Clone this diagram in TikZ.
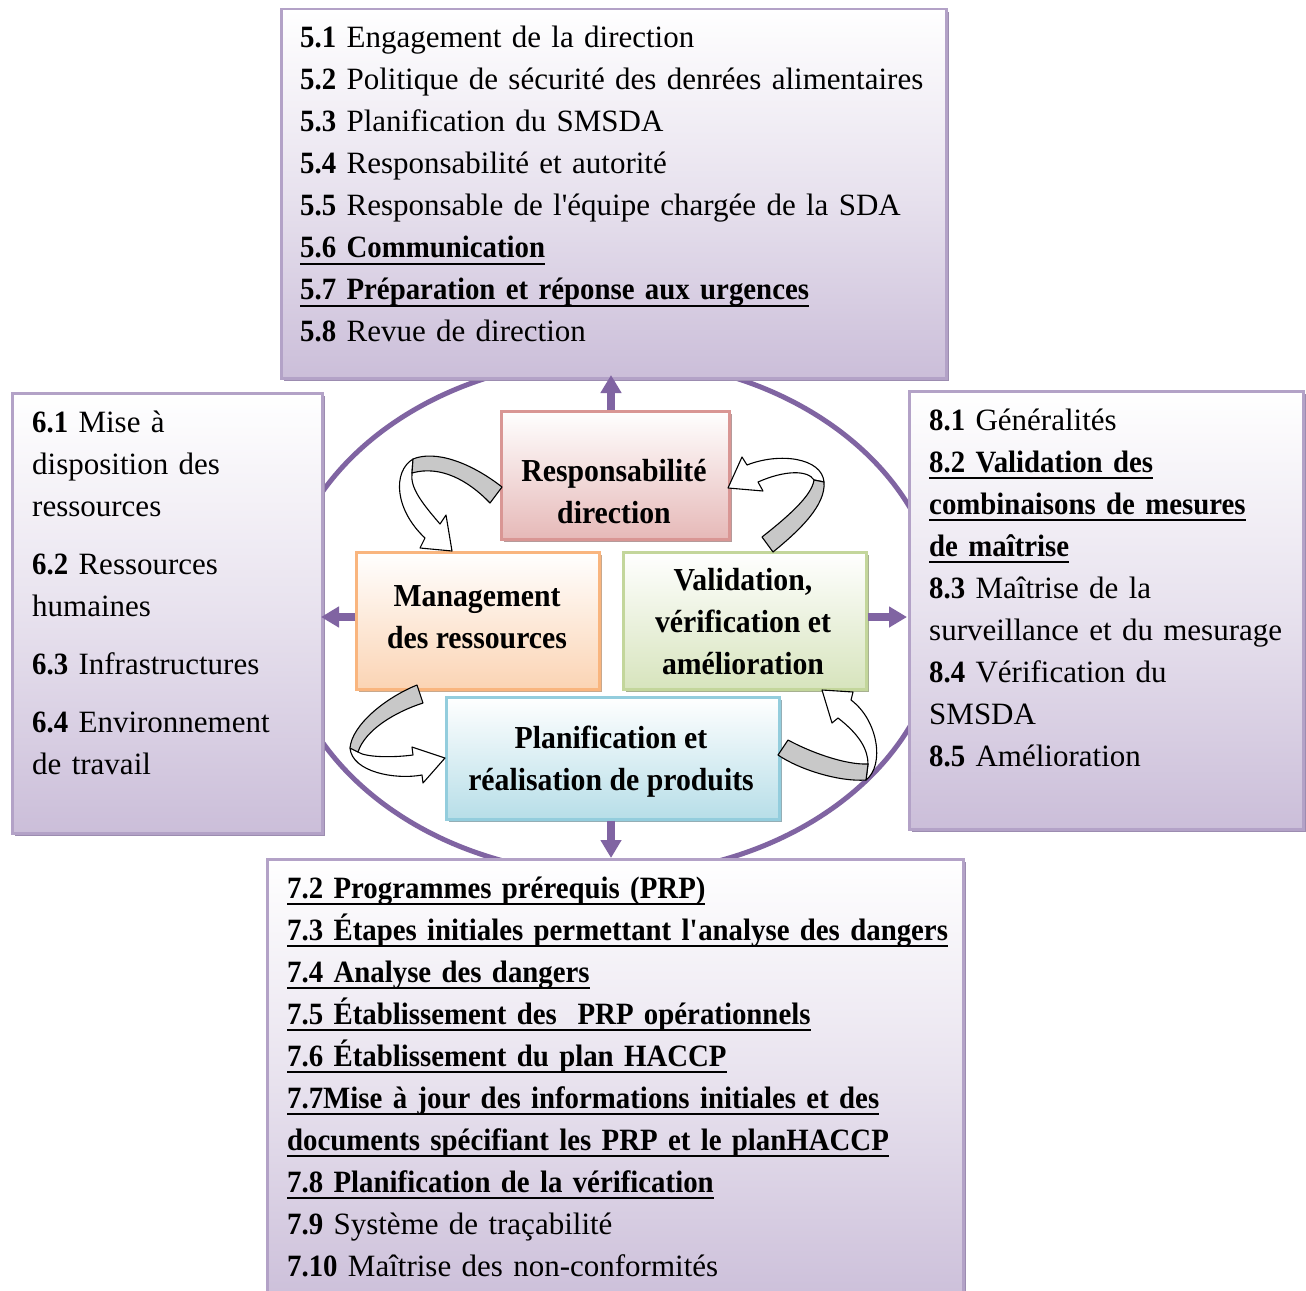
\documentclass[tikz,border=0pt]{standalone}
\usepackage{fontspec}
\setmainfont{Liberation Serif}[BoldFeatures={FakeStretch=0.93}]
\usetikzlibrary{arrows.meta,shadows}

\definecolor{ringpurple}{HTML}{8064A2}
\definecolor{outerline}{HTML}{B3A2C7}
\definecolor{outerfill}{HTML}{CBBED9}
\definecolor{outershadow}{HTML}{9C8CB0}
\definecolor{respline}{HTML}{D99694}
\definecolor{respfill}{HTML}{E6B9B8}
\definecolor{respshadow}{HTML}{B59A9A}
\definecolor{mgmtline}{HTML}{F9B57E}
\definecolor{mgmtfill}{HTML}{FBD4B4}
\definecolor{mgmtshadow}{HTML}{C8A88C}
\definecolor{validline}{HTML}{C3D69B}
\definecolor{validfill}{HTML}{D7E4BD}
\definecolor{validshadow}{HTML}{A6B090}
\definecolor{planline}{HTML}{93CDDD}
\definecolor{planfill}{HTML}{B7DEE8}
\definecolor{planshadow}{HTML}{94AEB5}
\definecolor{bandgray}{HTML}{C8C8C8}

\newcommand\boxtextfont{\fontsize{31}{42}\selectfont}
\newcommand\corefont{\fontsize{32}{42}\selectfont\bfseries}
% underline at a fixed depth below the baseline
\newlength\ulinewidth
\newcommand\lineunder[1]{\leavevmode\settowidth{\ulinewidth}{#1}\rlap{\rule[-7pt]{\ulinewidth}{1.8pt}}#1}
\newcommand\apos{\textquotesingle}

\tikzset{
  outerbox/.style={draw=outerline, line width=2.5pt, top color=white,
    bottom color=outerfill, middle color=white!55!outerfill, inner sep=0pt,
    anchor=north west, general shadow={fill=outershadow, shadow xshift=3pt, shadow yshift=-3pt}},
  corebox/.style n args={3}{draw=#1, line width=2.5pt, top color=white,
    bottom color=#2, inner sep=0pt, anchor=north west,
    general shadow={fill=#3, shadow xshift=3pt, shadow yshift=-3pt}},
  coretext/.style={inner sep=0pt, align=center, font=\corefont},
  listtext/.style={anchor=base west, inner sep=0pt, text width=#1,
    align=left, font=\boxtextfont},
  ring/.style={draw=ringpurple, line width=5pt},
  outarrow/.style={draw=ringpurple, line width=8pt,
    -{Triangle[length=18pt,width=20pt]}},
  whiteband/.style={draw=black, fill=white, line width=1.1pt, line join=round},
  grayband/.style={draw=black, fill=bandgray, line width=1.1pt, line join=round}
}

\begin{document}
\begin{tikzpicture}[x=1pt,y=-1pt]
\useasboundingbox (0,0) rectangle (1306,1290);
\fill[white] (0,0) rectangle (1306,1290);

% surrounding ring
\draw[ring] (611,617) ellipse [x radius=330pt, y radius=258pt];

% the four clause boxes
\node[outerbox, minimum width=665pt, minimum height=369pt] (top) at (280,8) {};
\node[outerbox, minimum width=310pt, minimum height=440pt] (left) at (11,392) {};
\node[outerbox, minimum width=394pt, minimum height=438pt] (right) at (908,390) {};
\node[outerbox, minimum width=696pt, minimum height=450pt] (bottom) at (266,858) {};

\node[listtext=640pt] (topText) at (300,48) {%
\textbf{5.1} Engagement de la direction\\
\textbf{5.2} Politique de sécurité des denrées alimentaires\\
\textbf{5.3} Planification du SMSDA\\
\textbf{5.4} Responsabilité et autorité\\
\textbf{5.5} Responsable de l\apos équipe chargée de la SDA\\
\lineunder{\textbf{5.6 Communication}}\\
\lineunder{\textbf{5.7 Préparation et réponse aux urgences}}\\
\textbf{5.8} Revue de direction};

\node[listtext=285pt] (leftText) at (32,432) {%
\textbf{6.1} Mise à\\
disposition des\\
ressources\\[16pt]
\textbf{6.2} Ressources\\
humaines\\[16pt]
\textbf{6.3} Infrastructures\\[16pt]
\textbf{6.4} Environnement\\
de travail};

\node[listtext=370pt] (rightText) at (929,430) {%
\textbf{8.1} Généralités\\
\lineunder{\textbf{8.2 Validation des}}\\
\lineunder{\textbf{combinaisons de mesures}}\\
\lineunder{\textbf{de maîtrise}}\\
\textbf{8.3} Maîtrise de la\\
surveillance et du mesurage\\
\textbf{8.4} Vérification du\\
SMSDA\\
\textbf{8.5} Amélioration};

\node[listtext=670pt] (bottomText) at (287,898) {%
\lineunder{\textbf{7.2 Programmes prérequis (PRP)}}\\
\lineunder{\textbf{7.3 Étapes initiales permettant l\apos analyse des dangers}}\\
\lineunder{\textbf{7.4 Analyse des dangers}}\\
\lineunder{\textbf{7.5 Établissement des\ \ PRP opérationnels}}\\
\lineunder{\textbf{7.6 Établissement du plan HACCP}}\\
\lineunder{\textbf{7.7Mise à jour des informations initiales et des}}\\
\lineunder{\textbf{documents spécifiant les PRP et le planHACCP}}\\
\lineunder{\textbf{7.8 Planification de la vérification}}\\
\textbf{7.9} Système de traçabilité\\
\textbf{7.10} Maîtrise des non-conformités};

% the four core processes
\node[corebox={respline}{respfill}{respshadow}, minimum width=228pt, minimum height=128pt] (resp) at (500,410) {};
\node[corebox={mgmtline}{mgmtfill}{mgmtshadow}, minimum width=243pt, minimum height=137pt] (mgmt) at (355,551) {};
\node[corebox={validline}{validfill}{validshadow}, minimum width=243pt, minimum height=137pt] (valid) at (622,551) {};
\node[corebox={planline}{planfill}{planshadow}, minimum width=333pt, minimum height=122pt] (plan) at (445,696) {};

\node[coretext] (respText) at (614,492) {Responsabilité\\direction};
\node[coretext] (mgmtText) at (477,617) {Management\\des ressources};
\node[coretext] (validText) at (743,622) {Validation,\\vérification et\\amélioration};
\node[coretext] (planText) at (611,762) {Planification et\\réalisation de produits};

% circular ribbon arrows between the core processes
\draw[whiteband] (413,459) .. controls (392,472) and (395,510) .. (425,538)
  -- (420,548) -- (452,551) -- (446,515) -- (440,524)
  .. controls (422,503) and (410,488) .. (412,473) -- cycle;
\draw[grayband] (502,487) .. controls (470,462) and (435,450) .. (413,459)
  -- (412,473) .. controls (440,465) and (468,480) .. (490,503) -- cycle;

\draw[whiteband] (824,482) .. controls (822,458) and (780,452) .. (747,465)
  -- (742,457) -- (728,488) -- (763,491) -- (758,482)
  .. controls (785,470) and (808,470) .. (814,480) -- cycle;
\draw[grayband] (762,537) .. controls (790,515) and (812,495) .. (814,480)
  -- (824,482) .. controls (826,505) and (800,530) .. (773,552) -- cycle;

\draw[whiteband] (350,748) .. controls (352,772) and (395,780) .. (422,775)
  -- (423,783) -- (445,758) -- (412,747) -- (413,755)
  .. controls (390,758) and (365,757) .. (358,752) -- cycle;
\draw[grayband] (417,685) .. controls (385,698) and (352,725) .. (350,748)
  -- (358,752) .. controls (365,730) and (395,712) .. (423,703) -- cycle;

\draw[whiteband] (866,780) .. controls (885,765) and (878,720) .. (851,700)
  -- (853,692) -- (822,690) -- (832,723) -- (838,718)
  .. controls (860,735) and (868,750) .. (868,764) -- cycle;
\draw[grayband] (788,740) .. controls (810,752) and (845,765) .. (868,764)
  -- (866,780) .. controls (840,782) and (800,770) .. (778,755) -- cycle;

% outward arrows to the clause boxes
\coordinate (upTip) at (611,375);
\coordinate (leftTip) at (321,617);
\coordinate (rightTip) at (907,617);
\coordinate (downTip) at (611,858);
\draw[outarrow] (resp.north -| upTip) -- (upTip);
\draw[outarrow] (mgmt.west |- leftTip) -- (leftTip);
\draw[outarrow] (valid.east |- rightTip) -- (rightTip);
\draw[outarrow] (plan.south -| downTip) -- (downTip);
\end{tikzpicture}
\end{document}
